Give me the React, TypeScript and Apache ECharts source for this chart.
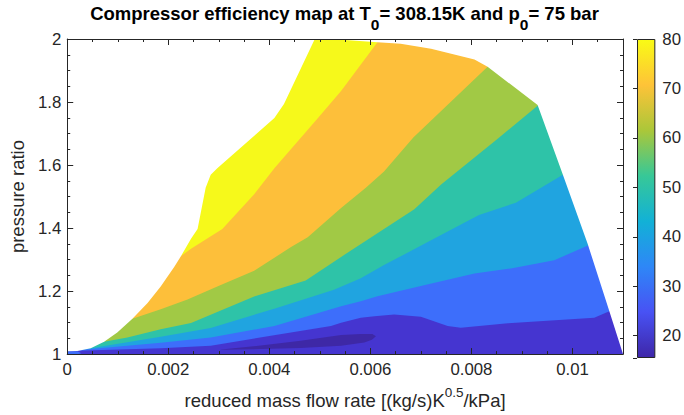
import React, { useEffect, useRef } from 'react';
import * as echarts from 'echarts';

// ---------- axes ----------
const xMin = 0;
const xMax = 0.011;
const yMin = 1;
const yMax = 2;
const xTicks = [0, 0.002, 0.004, 0.006, 0.008, 0.01];
const xTickLabels = ['0', '0.002', '0.004', '0.006', '0.008', '0.01'];
const yTicks = [1, 1.2, 1.4, 1.6, 1.8, 2];
const yTickLabels = ['1', '1.2', '1.4', '1.6', '1.8', '2'];
const cbMin = 15.5;
const cbMax = 80;
const cbTicks = [20, 30, 40, 50, 60, 70, 80];

// ---------- contour levels and their fill colours (parula) ----------
const levels = [15.5, 20, 30, 40, 50, 60, 70, 80];
const levelColors = ['#3e28a6', '#4535d0', '#3d6efb', '#20a4e0', '#2ec3a8', '#a1c945', '#fdbf3a', '#f6f91b'];
const parula = ['#3e26a8', '#4852f4', '#2e87f7', '#12b1d6', '#37c897', '#abc739', '#fec338', '#f9fb15'];

// ---------- domain boundary (outside is blank) ----------
const leftEdge: number[][] = [
  [0, 1.0094], [0.0002, 1.010], [0.000465, 1.0182], [0.00073, 1.0391], [0.00099, 1.0683],
  [0.00129, 1.1121], [0.00159, 1.1622], [0.00185, 1.2145], [0.00212, 1.2771], [0.00225, 1.3106],
  [0.00245, 1.3657], [0.00258, 1.397], [0.00274, 1.5276], [0.00284, 1.5692], [0.00297, 1.5902],
  [0.0041, 1.7489], [0.00429, 1.7937], [0.0049, 2.0],
];
const rightEdge: number[][] = [
  [0.00522, 2.0], [0.00614, 1.99], [0.0066, 1.985], [0.0072, 1.969], [0.00806, 1.935],
  [0.00832, 1.912], [0.00931, 1.7905], [0.00981, 1.569], [0.0103, 1.35], [0.01073, 1.136],
  [0.0110, 1.0],
];

// ---------- iso-efficiency contour lines ----------
const contour30: number[][] = [
  [0.0002, 1.0105], [0.00185, 1.0188], [0.00284, 1.0266], [0.00403, 1.0579], [0.00522, 1.0892],
  [0.00542, 1.0996], [0.00581, 1.1152], [0.00608, 1.1205], [0.00647, 1.1259], [0.0070, 1.1184],
  [0.00753, 1.0892], [0.00779, 1.0839], [0.00872, 1.0977], [0.01043, 1.1152], [0.01073, 1.1362],
  [0.01086, 1.1518],
];
const contour40: number[][] = [
  [0.00025, 1.013], [0.00185, 1.036], [0.00284, 1.0526], [0.0041, 1.0892], [0.00502, 1.133],
  [0.00542, 1.1518], [0.00581, 1.1675], [0.00614, 1.1832], [0.00704, 1.2176], [0.00806, 1.2561],
  [0.00878, 1.2718], [0.00964, 1.2981], [0.01033, 1.346], [0.01047, 1.371],
];
const contour50: number[][] = [
  [0.000465, 1.0182], [0.00185, 1.0548], [0.00284, 1.083], [0.00413, 1.1456], [0.00528, 1.2041],
  [0.00581, 1.2405], [0.00627, 1.2824], [0.00707, 1.35], [0.00815, 1.4415], [0.00888, 1.4806],
  [0.00981, 1.5692], [0.00997, 1.584],
];
const contour60: number[][] = [
  [0.000729, 1.039], [0.00119, 1.0526], [0.00185, 1.0789], [0.00245, 1.0986], [0.0037, 1.183],
  [0.00472, 1.2333], [0.00542, 1.3084], [0.00687, 1.4596], [0.0074, 1.5379], [0.00852, 1.6838],
  [0.00931, 1.7884], [0.00948, 1.8093],
];
const contour70: number[][] = [
  [0.00129, 1.1121], [0.00185, 1.142], [0.00238, 1.173], [0.00297, 1.2145], [0.0037, 1.2646],
  [0.00443, 1.3397], [0.00476, 1.371], [0.00542, 1.4634], [0.00591, 1.5276], [0.00627, 1.5798],
  [0.00685, 1.6872], [0.00832, 1.9117], [0.00849, 1.9346],
];
const contour80: number[][] = [
  [0.00225, 1.311], [0.00245, 1.334], [0.00307, 1.397], [0.0037, 1.507], [0.0041, 1.59],
  [0.00495, 1.747], [0.00542, 1.835], [0.00614, 1.99], [0.0062, 2.0],
];
// island below 20
const island20: number[][] = [
  [0.00300, 1.0135], [0.00383, 1.0275], [0.00462, 1.042], [0.00542, 1.0605], [0.00581, 1.0635],
  [0.00604, 1.0635], [0.00611, 1.0564], [0.00603, 1.0454], [0.00588, 1.0365], [0.00542, 1.0262],
  [0.00462, 1.0190], [0.00383, 1.0158],
];
// small patch at the origin
const originPatch: number[][] = [
  [0, 1.0], [0.00022, 1.0], [0.00028, 1.003], [0.0002, 1.0094], [0, 1.0094],
];

const FONT = '"Liberation Sans", Arial, Helvetica, sans-serif';
const AX = '#262626';
const TICK_FS = 16.8;
const LABEL_FS = 18.5;

function closeUp(c: number[][]): number[][] {
  const last = c[c.length - 1];
  return [...c, [last[0], yMax], [xMin, yMax], [xMin, c[0][1]]];
}

function buildShapes() {
  const contours = [contour30, contour40, contour50, contour60, contour70, contour80];
  const shapes: { pts: number[][]; color: string }[] = [];
  shapes.push({ pts: [[xMin, yMin], [xMax, yMin], [xMax, yMax], [xMin, yMax]], color: levelColors[1] });
  shapes.push({ pts: island20, color: levelColors[0] });
  contours.forEach((c, i) => shapes.push({ pts: closeUp(c), color: levelColors[i + 2] }));
  shapes.push({ pts: originPatch, color: levelColors[2] });
  shapes.push({ pts: [...leftEdge, [xMin, yMax]], color: '#ffffff' });
  shapes.push({ pts: [...rightEdge, [xMax, yMax]], color: '#ffffff' });
  return shapes;
}

function fmt(ticks: number[], labels: string[]) {
  return (v: number) => {
    const i = ticks.findIndex((t) => Math.abs(t - v) < 1e-9);
    return i >= 0 ? labels[i] : '';
  };
}

export default function App() {
  const ref = useRef<HTMLDivElement>(null);
  useEffect(() => {
    if (!ref.current) return;
    const chart = echarts.init(ref.current, undefined, { renderer: 'svg' });
    const shapes = buildShapes();

    const xAxisBase = (pos: string, showLabel: boolean) => ({
      type: 'value', gridIndex: 0, position: pos, min: xMin, max: xMax,
      interval: xTicks[1] - xTicks[0], z: 5,
      axisLine: { show: true, onZero: false, lineStyle: { color: AX, width: 1 } },
      axisTick: { show: true, inside: true, length: 6, lineStyle: { color: AX } },
      minorTick: { show: true, splitNumber: 4, length: 3, lineStyle: { color: AX } },
      splitLine: { show: false },
      axisLabel: showLabel
        ? { show: true, formatter: fmt(xTicks, xTickLabels), color: AX, fontSize: TICK_FS, fontFamily: FONT, margin: 7 }
        : { show: false },
    });
    const yAxisBase = (pos: string, showLabel: boolean) => ({
      type: 'value', gridIndex: 0, position: pos, min: yMin, max: yMax,
      interval: yTicks[1] - yTicks[0], z: 5,
      axisLine: { show: true, onZero: false, lineStyle: { color: AX, width: 1 } },
      axisTick: { show: true, inside: true, length: 6, lineStyle: { color: AX } },
      minorTick: { show: true, splitNumber: 4, length: 3, lineStyle: { color: AX } },
      splitLine: { show: false },
      axisLabel: showLabel
        ? { show: true, formatter: fmt(yTicks, yTickLabels), color: AX, fontSize: TICK_FS, fontFamily: FONT, margin: 6 }
        : { show: false },
    });

    const option: any = {
      animation: false,
      backgroundColor: '#ffffff',
      title: {
        text: '{m|Compressor efficiency map at T}{s|0}{m|= 308.15K and p}{s|0}{m|= 75 bar}',
        left: 344.5, top: 4, textAlign: 'center', padding: 0,
        textStyle: {
          fontFamily: FONT, fontSize: LABEL_FS, fontWeight: 'bold', color: '#000',
          rich: {
            m: { fontFamily: FONT, fontSize: LABEL_FS, fontWeight: 'bold', color: '#000', lineHeight: 22, verticalAlign: 'top' },
            s: { fontFamily: FONT, fontSize: 15.5, fontWeight: 'bold', color: '#000', lineHeight: 18, verticalAlign: 'top', padding: [12, 0, 0, 0] },
          },
        },
      },
      grid: [
        { left: 66, top: 39, width: 557, height: 320 },
        { left: 637, top: 39, width: 27, height: 319 },
      ],
      xAxis: [
        {
          ...xAxisBase('bottom', true),
          name: '{n|reduced mass flow rate [(kg/s)K}{u|0.5}{n|/kPa]}',
          nameLocation: 'middle', nameGap: 21,
          nameTextStyle: {
            color: AX, fontFamily: FONT, fontSize: LABEL_FS,
            rich: {
              n: { color: AX, fontFamily: FONT, fontSize: LABEL_FS, lineHeight: 22, verticalAlign: 'top', padding: [8, 0, 0, 0] },
              u: { color: AX, fontFamily: FONT, fontSize: 13.5, lineHeight: 16, verticalAlign: 'top', padding: [2, 0, 0, 0] },
            },
          },
        },
        xAxisBase('top', false),
        { type: 'value', gridIndex: 1, min: 0, max: 1, show: false },
      ],
      yAxis: [
        {
          ...yAxisBase('left', true),
          name: 'pressure ratio', nameLocation: 'middle', nameGap: 27,
          nameTextStyle: { color: AX, fontFamily: FONT, fontSize: LABEL_FS },
        },
        yAxisBase('right', false),
        {
          type: 'value', gridIndex: 1, position: 'right', min: cbMin, max: cbMax, splitNumber: 7, z: 5,
          axisLine: { show: false },
          axisTick: { show: true, inside: true, length: 4, lineStyle: { color: AX } },
          splitLine: { show: false },
          axisLabel: { show: true, formatter: fmt(cbTicks, cbTicks.map(String)), color: AX, fontSize: TICK_FS, fontFamily: FONT, margin: 7 },
        },
      ],
      series: [
        {
          type: 'custom', coordinateSystem: 'cartesian2d', xAxisIndex: 0, yAxisIndex: 0, clip: true,
          data: shapes.map((_, i) => [0.005, 1.5, i]),
          renderItem: (params: any, api: any) => {
            const s = shapes[params.dataIndex];
            return {
              type: 'polygon',
              shape: { points: s.pts.map((p) => api.coord(p)) },
              style: { fill: s.color, stroke: 'none' },
            };
          },
          silent: true,
        },
        {
          type: 'custom', coordinateSystem: 'cartesian2d', xAxisIndex: 2, yAxisIndex: 2,
          data: [[0.5, 50]],
          renderItem: (params: any, api: any) => {
            const p0 = api.coord([0, cbMax]);
            const p1 = api.coord([1, cbMin]);
            return {
              type: 'rect',
              shape: { x: p0[0] + 0.5, y: p0[1] + 0.5, width: p1[0] - p0[0] - 1, height: p1[1] - p0[1] - 1 },
              style: {
                fill: new echarts.graphic.LinearGradient(0, 1, 0, 0,
                  parula.map((c, i) => ({ offset: i / (parula.length - 1), color: c }))),
                stroke: AX, lineWidth: 1,
              },
            };
          },
          silent: true,
        },
      ],
    };
    chart.setOption(option);
    return () => chart.dispose();
  }, []);
  return <div ref={ref} style={{ position: 'fixed', left: 0, top: 0, width: 684, height: 415 }} />;
}
